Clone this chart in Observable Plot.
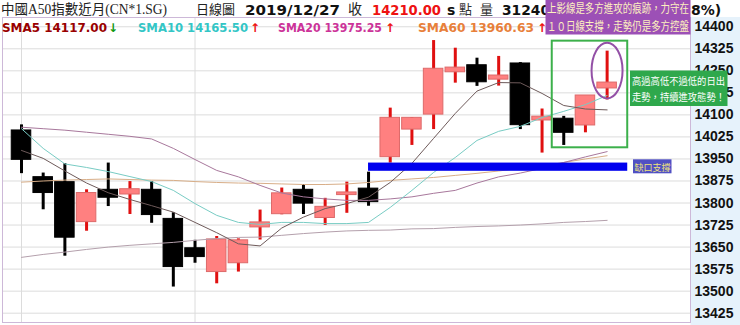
<!DOCTYPE html>
<html><head><meta charset="utf-8">
<script src="https://cdn.jsdelivr.net/npm/d3@7"></script>
<script src="https://cdn.jsdelivr.net/npm/@observablehq/plot@0.6"></script>
<style>
body{margin:0;background:#fff;}
#chart svg{display:block;}
</style></head><body><div id="chart"></div>
<script>
// ---- data ----
const openP  = [14047,13888,13871,13735,13845,13829,13845,13746,13646,13565,13595,13717,13762,13845,13749,13827,13849,13956,14050,14101,14245,14269,14220,14275,14081,14087,14064,14190];
const highP  = [14066,13902,13934,13845,13936,13873,13873,13767,13673,13686,13678,13776,13851,13863,13816,13871,13905,14123,14091,14353,14327,14293,14299,14278,14120,14095,14166,14317];
const lowP   = [13900,13777,13619,13704,13788,13761,13731,13514,13595,13525,13565,13674,13760,13761,13724,13765,13789,13936,13996,14050,14208,14197,14198,14050,13970,13996,14039,14151];
const closeP = [13947,13834,13682,13834,13818,13847,13759,13582,13616,13676,13673,13734,13833,13798,13787,13836,13803,14090,14090,14257,14261,14211,14234,14065,14094,14039,14166,14210];

const sma5   = [13979,13952,13909,13868,13835,13812,13791,13769,13734,13699,13661,13654,13715,13752,13781,13798,13820,13870,13935,14020,14105,14181,14210,14209,14173,14132,14120,14117];
const sma10  = [14053,13986,13933,13921,13907,13890,13873,13843,13798,13758,13734,13727,13734,13734,13730,13730,13734,13785,13843,13904,13955,14013,14044,14061,14091,14112,14135,14166];
const sma20  = [14058,14053,14048,14041,14034,14027,14018,13986,13948,13911,13889,13860,13834,13821,13814,13809,13809,13814,13821,13833,13843,13868,13889,13902,13918,13938,13957,13975];
const sma60  = [13871,13875,13878,13880,13882,13880,13878,13877,13873,13870,13868,13867,13865,13863,13863,13865,13870,13877,13882,13887,13894,13901,13909,13918,13926,13938,13950,13961];
const smaLong= [13615,13625,13633,13642,13650,13656,13661,13666,13673,13679,13683,13684,13690,13696,13701,13705,13707,13708,13712,13713,13717,13720,13722,13725,13729,13734,13737,13741];

const tickValues = [14400,14325,14250,14175,14100,14025,13950,13875,13800,13725,13650,13575,13500,13425];
const vGridIdx   = [0, 8];
const gapIdx     = [16, 27.95];
const gapVals    = [13908, 13936];
const boxIdx     = [24.47, 27.95];
const boxVals    = [13988, 14351];
const ovalAt     = [27.02, 14249];

// ---- build tables ----
const candles = openP.map((o, i) => ({i, o, h: highP[i], l: lowP[i], c: closeP[i],
  top: Math.max(o, closeP[i]), bot: Math.min(o, closeP[i]), up: closeP[i] >= o}));
const ups = candles.filter(d => d.up), downs = candles.filter(d => !d.up);
const maLine = (arr, color) => Plot.line(arr, {x: (d, i) => i, y: d => d, stroke: color, strokeWidth: 1});

const plot = Plot.plot({
  width: 740, height: 325,
  marginTop: 17, marginBottom: 3, marginLeft: 2, marginRight: 50,
  x: {type: "linear", domain: [-0.876, 30.844], axis: null},
  y: {domain: [13393.3, 14431.5]},
  style: {background: "transparent", fontFamily: "DejaVu Sans"},
  marks: [
    Plot.ruleY(tickValues, {stroke: "#dcdcdc", strokeWidth: 1}),
    Plot.ruleX(vGridIdx, {stroke: "#dcdcdc", strokeWidth: 1}),
    Plot.axisY(tickValues, {anchor: "right", tickSize: 0, tickPadding: 4, tickFormat: d => String(d),
      fontSize: 14, fontWeight: "bold", fontFamily: "Liberation Sans", fill: "#111", label: null}),
    // candles
    Plot.ruleX(downs, {x: "i", y1: "l", y2: "h", stroke: "#000", strokeWidth: 3}),
    Plot.rect(downs, {x1: d => d.i - 0.45, x2: d => d.i + 0.45, y1: "bot", y2: "top", fill: "#000", stroke: "#000", strokeWidth: 1}),
    Plot.ruleX(ups, {x: "i", y1: "l", y2: "h", stroke: "#e01010", strokeWidth: 3}),
    Plot.rect(ups, {x1: d => d.i - 0.45, x2: d => d.i + 0.45, y1: "bot", y2: "top", fill: "#ff8080", stroke: "#dd6a6a", strokeWidth: 1}),
    // moving averages
    maLine(smaLong, "#b4a0ac"),
    maLine(sma60, "#d8ae88"),
    maLine(sma20, "#a8789c"),
    maLine(sma10, "#78ccc4"),
    maLine(sma5, "#6e5a5a"),
    // gap support bar
    Plot.rect([{a: gapIdx[0], b: gapIdx[1], lo: gapVals[0], hi: gapVals[1]}], {x1: "a", x2: "b", y1: "lo", y2: "hi", fill: "#0000ee"}),
    // highlight box
    Plot.rect([{a: boxIdx[0], b: boxIdx[1], lo: boxVals[0], hi: boxVals[1]}], {x1: "a", x2: "b", y1: "lo", y2: "hi", fill: "none", stroke: "#3cb04b", strokeWidth: 2}),
    Plot.frame({stroke: "#cdb8d8", strokeWidth: 1})
  ]
});
document.getElementById("chart").appendChild(plot);

const svg = d3.select(plot);
const xs = plot.scale("x"), ys = plot.scale("y");

// axis strip background
svg.insert("rect", ":first-child").attr("x", 690.5).attr("y", 17).attr("width", 49.5).attr("height", 308).attr("fill", "#e6f2fb");
svg.insert("rect", ":first-child").attr("x", 0).attr("y", 0).attr("width", 740).attr("height", 325).attr("fill", "#ffffff");

// ellipse around last candle
svg.append("ellipse").attr("cx", xs.apply(ovalAt[0])).attr("cy", ys.apply(ovalAt[1]))
  .attr("rx", 15.5).attr("ry", 27.8).attr("fill", "none").attr("stroke", "#9350a6").attr("stroke-width", 2);

const ann = svg.append("g").attr("text-anchor", "start");
function txt(s, x, y, o = {}) {
  const t = ann.append("text").attr("x", x).attr("y", y).text(s)
    .attr("text-anchor", "start")
    .attr("font-family", o.fam || "DejaVu Sans").attr("font-size", o.size || 12)
    .attr("font-weight", o.bold ? "bold" : "normal").attr("fill", o.color || "#111");
  if (o.len) t.attr("textLength", o.len).attr("lengthAdjust", "spacingAndGlyphs");
  return t;
}
const CJK = "'Liberation Serif','Noto Sans CJK TC'";

// header row 1
txt("中國A50指數近月(CN*1.SG)", 1, 14, {fam: CJK, size: 14, color: "#222", len: 166});
txt("日線圖", 196, 14, {fam: "'Noto Sans CJK TC'", size: 13, color: "#222"});
txt("2019/12/27", 245, 15, {bold: true, size: 14, color: "#111", len: 95});
txt("收", 348, 14, {fam: "'Noto Sans CJK TC'", size: 14, color: "#222"});
txt("14210.00", 372, 15, {bold: true, size: 14, color: "#ee1111", len: 69});
txt("s", 447, 15, {bold: true, size: 14, color: "#111"});
txt("點", 459, 14, {fam: "'Noto Sans CJK TC'", size: 13, color: "#333"});
txt("量", 480, 14, {fam: "'Noto Sans CJK TC'", size: 13, color: "#333"});
txt("31240", 502, 15, {bold: true, size: 14, color: "#111", len: 48});
txt("8%)", 691, 15, {bold: true, size: 14, color: "#111"});

// header row 2 (moving-average legend)
txt("SMA5 14117.00", 2, 31.5, {bold: true, color: "#990000", len: 105});
txt("↓", 108, 31.5, {bold: true, color: "#119911"});
txt("SMA10 14165.50", 138, 31.5, {bold: true, color: "#33c6c6", len: 110});
txt("↑", 250, 31.5, {bold: true, color: "#ee1111"});
txt("SMA20 13975.25", 278, 31.5, {bold: true, color: "#cc3399", len: 104});
txt("↑", 385, 31.5, {bold: true, color: "#ee1111"});
txt("SMA60 13960.63", 418, 31.5, {bold: true, color: "#e8803a", len: 116});
txt("↑", 537, 31.5, {bold: true, color: "#ee1111"});

// purple callout (top)
ann.append("rect").attr("x", 545.5).attr("y", 0).attr("width", 145).attr("height", 34.5).attr("fill", "#9c50b6");
txt("上影線是多方進攻的痕跡，力守在", 547, 12.5, {fam: "'Noto Sans CJK TC'", size: 12, color: "#fdf0bf", len: 142});
txt("１０日線支撐，走勢仍是多方控盤", 547, 31, {fam: "'Noto Sans CJK TC'", size: 12, color: "#fdf0bf", len: 142});

// green callout (right)
ann.append("rect").attr("x", 630).attr("y", 70.5).attr("width", 97.5).attr("height", 35.5).attr("fill", "#2fa84c");
txt("高過高低不過低的日出", 632, 85, {fam: "'Noto Sans CJK TC'", size: 10, color: "#ffffff", len: 93});
txt("走勢，持續進攻態勢！", 632, 101, {fam: "'Noto Sans CJK TC'", size: 10, color: "#ffffff", len: 93});

// gap label
ann.append("rect").attr("x", 633).attr("y", 159.3).attr("width", 38.5).attr("height", 14).attr("fill", "#5050c4");
txt("缺口支撐", 634.5, 170.5, {fam: "'Noto Sans CJK TC'", size: 9, color: "#eee37a", len: 36});
</script>
</body></html>
